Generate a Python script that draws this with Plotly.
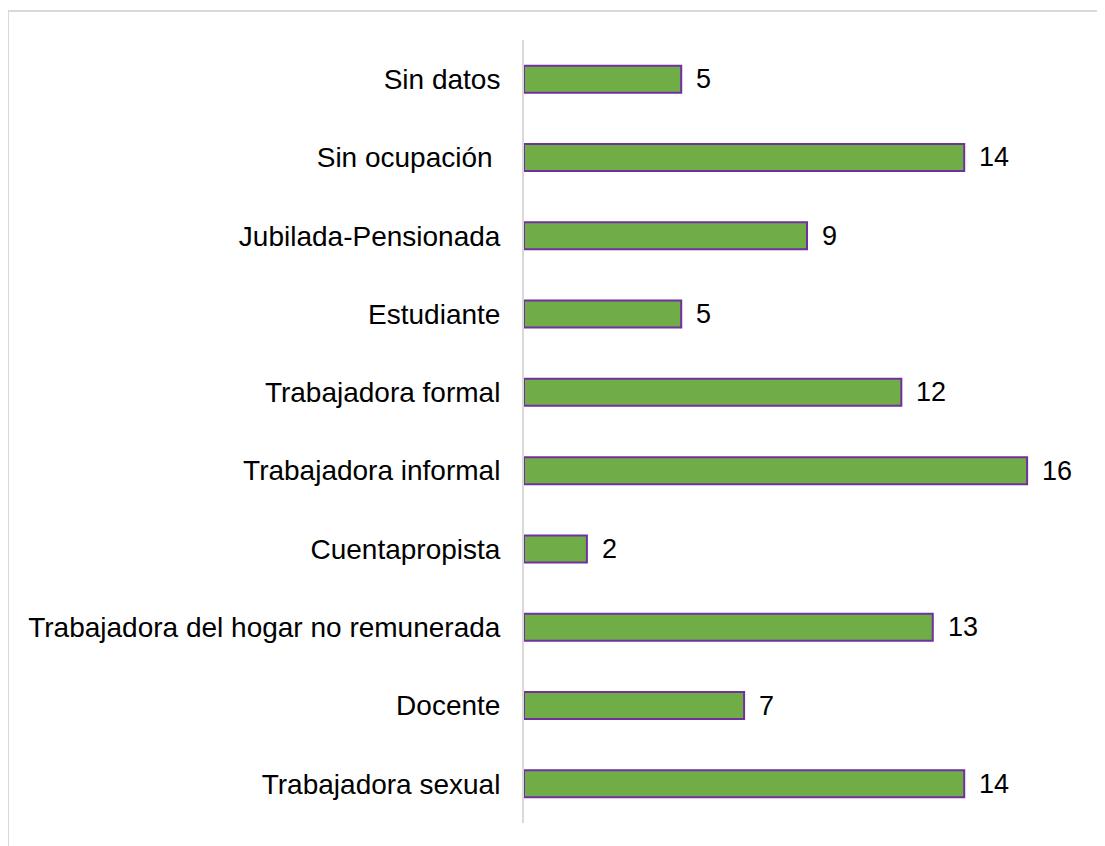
import plotly.graph_objects as go

categories = [
    "Trabajadora sexual",
    "Docente",
    "Trabajadora del hogar no remunerada",
    "Cuentapropista",
    "Trabajadora informal",
    "Trabajadora formal",
    "Estudiante",
    "Jubilada-Pensionada",
    "Sin ocupación ",
    "Sin datos",
]
values = [14, 7, 13, 2, 16, 12, 5, 9, 14, 5]

# figure sits at (8, 8) in the page because of the default body margin
W, H = 1097, 838
L, R, T, B = 516, 15, 32, 23
pw, ph = W - L - R, H - T - B
FONT = "Liberation Sans, Arial"

fig = go.Figure()
fig.add_trace(go.Bar(
    y=categories, x=values, orientation="h",
    marker=dict(color="#70AD47", line=dict(color="#7030A0", width=2)),
    width=0.345,
    hoverinfo="x+y",
))

for c, v in zip(categories, values):
    fig.add_annotation(
        x=v, y=c, text=str(v), showarrow=False, xanchor="left",
        xshift=13, font=dict(family=FONT, size=27, color="#000000"),
    )

# outer frame (light gray)
fy = (H - B - 3) / ph
fx = (0 - L) / pw
fig.add_shape(type="line", xref="paper", yref="paper",
              x0=fx, x1=(W + 50 - L) / pw, y0=fy, y1=fy,
              line=dict(color="#d9d9d9", width=2))
fig.add_shape(type="line", xref="paper", yref="paper",
              x0=fx, x1=fx, y0=fy, y1=-1,
              line=dict(color="#d9d9d9", width=2))

fig.update_layout(
    width=W, height=H,
    margin=dict(l=L, r=R, t=T, b=B, pad=0),
    paper_bgcolor="white", plot_bgcolor="white",
    showlegend=False,
    font=dict(family=FONT, size=28, color="#000000"),
    xaxis=dict(range=[0, 18], visible=False, fixedrange=True),
    yaxis=dict(
        type="category", categoryorder="array", categoryarray=categories,
        range=[-0.5, 9.5], showline=True, linecolor="#d9d9d9", linewidth=2,
        showgrid=False, ticks="", ticklabelstandoff=16, zeroline=False,
        tickfont=dict(family=FONT, size=28, color="#000000"),
    ),
)

fig.write_html("out.html")
